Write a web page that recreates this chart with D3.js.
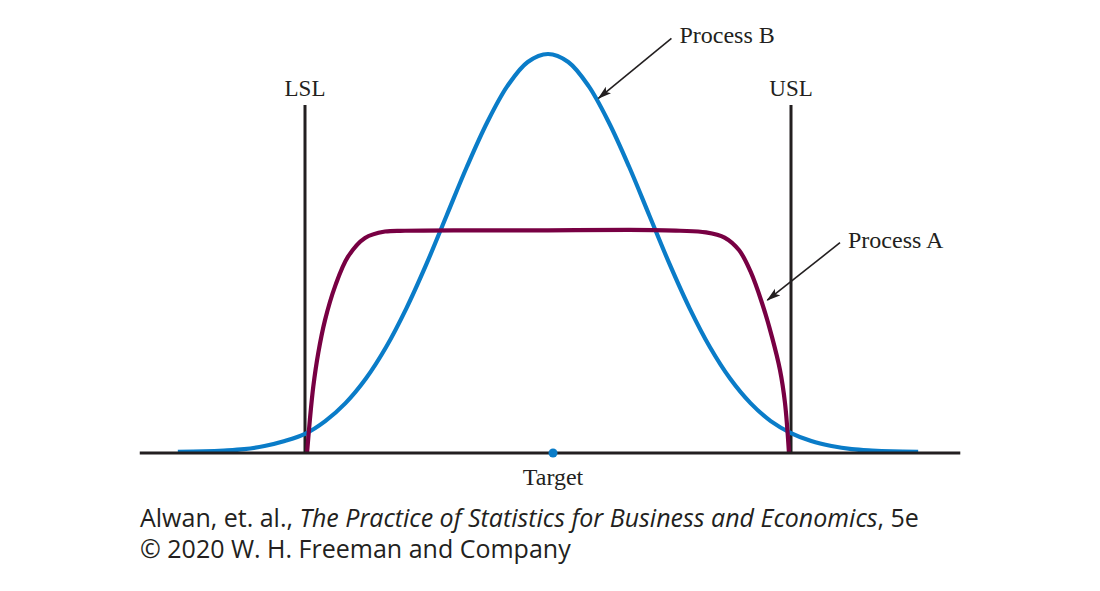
<!DOCTYPE html>
<html>
<head>
<meta charset="utf-8">
<script src="https://cdn.jsdelivr.net/npm/d3@7"></script>
<style>
  html, body { margin: 0; padding: 0; background: #fff; }
  svg { display: block; }
</style>
</head>
<body>
<svg id="chart" width="1100" height="591"></svg>
<script>
// ---------- data ----------
// Process B: bell-shaped curve, x in spec units (LSL = -3, USL = 3), relative density
const processBx = [-4.57, -4.25, -4.0, -3.75, -3.5, -3.25, -3.0, -2.75, -2.5, -2.25, -2.0, -1.75, -1.5, -1.25, -1.0, -0.75, -0.5, -0.25, 0.0,
                   0.25, 0.5, 0.75, 1.0, 1.25, 1.5, 1.75, 2.0, 2.25, 2.5, 2.75, 3.0, 3.25, 3.5, 3.75, 4.0, 4.25, 4.57];
const processBy = [0.003, 0.004, 0.006, 0.0095, 0.0175, 0.030, 0.048, 0.080, 0.125, 0.186, 0.265, 0.362, 0.474, 0.596, 0.718, 0.829, 0.920, 0.980, 1.000,
                   0.980, 0.920, 0.829, 0.718, 0.596, 0.474, 0.362, 0.265, 0.186, 0.125, 0.080, 0.050, 0.030, 0.0175, 0.0095, 0.006, 0.004, 0.003];
// Process A: flat-topped curve that falls to zero right at the spec limits
const processAx = [-2.975, -2.94, -2.898, -2.836, -2.753, -2.63, -2.469, -2.259, -2.012, -1.765, -1.0, 0.0, 1.0, 1.63,
                   1.95, 2.18, 2.36, 2.50, 2.642, 2.765, 2.864, 2.926, 2.975];
const processAy = [0.0, 0.083, 0.166, 0.251, 0.333, 0.417, 0.492, 0.539, 0.555, 0.557, 0.558, 0.558, 0.559, 0.557,
                   0.553, 0.540, 0.508, 0.455, 0.376, 0.291, 0.208, 0.125, 0.0];
// spec limits and target
const specNames = ["LSL", "USL"];
const specValues = [-3, 3];
const specTop = 0.872;
const targetValue = 0.062;
const targetLabel = "Target";
const axisExtent = [-5.04, 5.09];
// labels with arrows: [label, arrow start (x,y), arrow tip (x,y)]
const curveLabels = ["Process B", "Process A"];
const labelArrowStart = [[1.524, 1.039], [3.605, 0.527]];
const labelArrowTip = [[0.622, 0.889], [2.708, 0.383]];
const creditLine1 = ["Alwan, et. al., ", "The Practice of Statistics for Business and Economics", ", 5e"];
const creditLine2 = "© 2020 W. H. Freeman and Company";

// ---------- drawing ----------
const svg = d3.select("#chart");
const x = d3.scaleLinear().domain([-5, 5]).range([143, 953]);
const y = d3.scaleLinear().domain([0, 1]).range([453, 54]);

const ink = "#231f20";
const blue = "#0a7cc8";
const maroon = "#780043";
const serif = "'Liberation Serif', 'Times New Roman', serif";
const sans = "'Open Sans', 'Liberation Sans', sans-serif";

const defs = svg.append("defs");
defs.append("marker")
  .attr("id", "arrow")
  .attr("viewBox", "0 0 14 10")
  .attr("refX", 13).attr("refY", 5)
  .attr("markerWidth", 14).attr("markerHeight", 10)
  .attr("markerUnits", "userSpaceOnUse")
  .attr("orient", "auto")
  .append("path")
  .attr("d", "M0,0.8 L14,5 L0,9.2 L3,5 Z")
  .attr("fill", ink);

// spec limit lines
specValues.forEach((v, i) => {
  svg.append("line")
    .attr("x1", x(v)).attr("x2", x(v))
    .attr("y1", y(0)).attr("y2", y(specTop))
    .attr("stroke", ink).attr("stroke-width", 3);
  svg.append("text")
    .attr("x", x(v)).attr("y", y(specTop) - 9)
    .attr("text-anchor", "middle")
    .attr("font-family", serif).attr("font-size", 23)
    .attr("fill", ink)
    .text(specNames[i]);
});

// curves
const lineGen = d3.line().x(d => x(d[0])).y(d => y(d[1])).curve(d3.curveCatmullRom.alpha(0.5));
const dataB = processBx.map((v, i) => [v, processBy[i]]);
const dataA = processAx.map((v, i) => [v, processAy[i]]);

svg.append("path").datum(dataB)
  .attr("d", lineGen)
  .attr("fill", "none").attr("stroke", blue).attr("stroke-width", 4.2)
  .attr("stroke-linejoin", "round");

svg.append("path").datum(dataA)
  .attr("d", lineGen)
  .attr("fill", "none").attr("stroke", maroon).attr("stroke-width", 4.2)
  .attr("stroke-linejoin", "round");

// baseline axis
svg.append("line")
  .attr("x1", x(axisExtent[0])).attr("x2", x(axisExtent[1]))
  .attr("y1", y(0)).attr("y2", y(0))
  .attr("stroke", ink).attr("stroke-width", 3);

// target
svg.append("circle")
  .attr("cx", x(targetValue)).attr("cy", y(0)).attr("r", 4.5)
  .attr("fill", blue);
svg.append("text")
  .attr("x", x(targetValue)).attr("y", y(0) + 32)
  .attr("text-anchor", "middle")
  .attr("font-family", serif).attr("font-size", 24)
  .attr("fill", ink)
  .text(targetLabel);

// curve labels with arrows
curveLabels.forEach((lab, i) => {
  const s = labelArrowStart[i], t = labelArrowTip[i];
  svg.append("line")
    .attr("x1", x(s[0])).attr("y1", y(s[1]))
    .attr("x2", x(t[0])).attr("y2", y(t[1]))
    .attr("stroke", ink).attr("stroke-width", 1.6)
    .attr("marker-end", "url(#arrow)");
  svg.append("text")
    .attr("x", x(s[0]) + 8).attr("y", y(s[1]) + 5)
    .attr("font-family", serif).attr("font-size", 24)
    .attr("fill", ink)
    .text(lab);
});

// credit lines
const c1 = svg.append("text")
  .attr("x", 140).attr("y", 527)
  .attr("font-family", sans).attr("font-size", 25)
  .attr("fill", ink);
c1.append("tspan").text(creditLine1[0]);
c1.append("tspan").attr("font-style", "italic").text(creditLine1[1]);
c1.append("tspan").text(creditLine1[2]);

svg.append("text")
  .attr("x", 140).attr("y", 558)
  .attr("font-family", sans).attr("font-size", 25)
  .attr("fill", ink)
  .text(creditLine2);
</script>
</body>
</html>
